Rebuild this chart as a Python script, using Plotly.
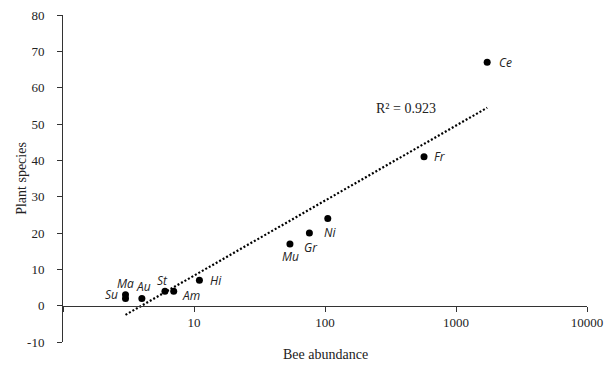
import numpy as np
import plotly.graph_objects as go

# ---- data ----
sites = ["Ce", "Fr", "Ni", "Gr", "Mu", "Hi", "Am", "St", "Au", "Ma", "Su"]
bee_abundance = [1730, 570, 105, 76, 54, 11, 7, 6, 4, 3, 3]
plant_species = [67, 41, 24, 20, 17, 7, 4, 4, 2, 3, 2]
x_tick_vals = [1, 10, 100, 1000, 10000]
x_tick_text = ["", "10", "100", "1000", "10000"]
y_tick_vals = [-10, 0, 10, 20, 30, 40, 50, 60, 70, 80]
y_tick_text = ["-10", "0", "10", "20", "30", "40", "50", "60", "70", "80"]
r2_text = "R² = 0.923"

# label placement (pixel offsets from point, anchors)
label_pos = {
    "Ce": (10, 0, "left", "middle"),
    "Fr": (8, 0, "left", "middle"),
    "Ni": (2, -14, "center", "middle"),
    "Gr": (2, -14, "center", "middle"),
    "Mu": (1, -13, "center", "middle"),
    "Hi": (9, 0, "left", "middle"),
    "Am": (6, -4, "left", "middle"),
    "St": (-2, 11, "center", "middle"),
    "Au": (2, 12, "center", "middle"),
    "Ma": (0, 11, "center", "middle"),
    "Su": (-6, 4, "right", "middle"),
}

# logarithmic trendline fitted from data
lx = np.log(np.array(bee_abundance, dtype=float))
a, b = np.polyfit(lx, np.array(plant_species, dtype=float), 1)
tx = np.geomspace(min(bee_abundance), max(bee_abundance), 60)
ty = a * np.log(tx) + b

fig = go.Figure()
fig.add_trace(go.Scatter(
    x=tx, y=ty, mode="lines",
    line=dict(color="black", width=2.2, dash="2px,2px"),
    hoverinfo="skip", showlegend=False,
))
fig.add_trace(go.Scatter(
    x=bee_abundance, y=plant_species, mode="markers",
    marker=dict(color="black", size=7),
    showlegend=False,
))

for s, xv, yv in zip(sites, bee_abundance, plant_species):
    dx, dy, xa, ya = label_pos[s]
    fig.add_annotation(
        x=np.log10(xv), y=yv, text=f"<i>{s}</i>", showarrow=False,
        xshift=dx, yshift=dy, xanchor=xa, yanchor=ya,
        font=dict(family="Open Sans", size=12, color="#222"),
    )

fig.add_annotation(
    x=np.log10(415), y=54.4, text=r2_text, showarrow=False,
    xanchor="center", yanchor="middle",
    font=dict(family="Liberation Serif", size=14, color="#222"),
)

# axis titles
fig.add_annotation(
    xref="paper", yref="paper", x=0.5, y=-0.037, text="Bee abundance",
    showarrow=False, xanchor="center", yanchor="middle",
    font=dict(family="Liberation Serif", size=14, color="#222"),
)
fig.add_annotation(
    xref="paper", yref="paper", x=-0.07, y=0.5, text="Plant species",
    showarrow=False, textangle=-90, xanchor="center", yanchor="middle",
    xshift=-5,
    font=dict(family="Liberation Serif", size=14, color="#222"),
)

# page body has an 8px margin, so the figure is sized/offset to compensate
fig.update_layout(
    width=607, height=359,
    margin=dict(l=54.7, r=28.3, t=7, b=25.3, autoexpand=False),
    paper_bgcolor="white", plot_bgcolor="white",
    xaxis=dict(
        type="log", range=[0, 4], tickvals=x_tick_vals, ticktext=x_tick_text,
        anchor="free", position=10 / 90, automargin=False,
        showline=True, linecolor="#333333", linewidth=1,
        ticks="outside", ticklen=5, tickcolor="#333333",
        showgrid=False, zeroline=False, ticklabeloverflow="allow",
        tickfont=dict(family="Liberation Serif", size=13, color="#222"),
    ),
    yaxis=dict(
        range=[-10, 80], tickvals=y_tick_vals, ticktext=y_tick_text,
        automargin=False,
        showline=True, linecolor="#333333", linewidth=1,
        ticks="outside", ticklen=5, tickcolor="#333333",
        showgrid=False, zeroline=False, ticklabelstandoff=10,
        ticklabeloverflow="allow",
        tickfont=dict(family="Liberation Serif", size=13, color="#222"),
    ),
)

fig.write_html("out.html")
